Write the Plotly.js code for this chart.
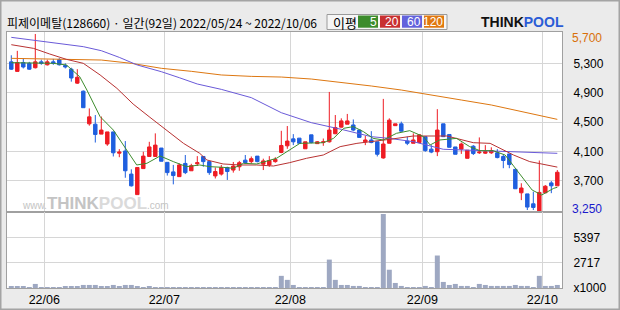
<!DOCTYPE html>
<html><head><meta charset="utf-8">
<script src="https://cdn.plot.ly/plotly-3.0.1.min.js"></script>
<style>html,body{margin:0;padding:0;background:#ebebeb;}#chart{width:620px;height:310px;}</style>
</head><body><div id="chart"></div>
<script>
// ---- data ----
const open  = [5320,5190,5310,5300,5240,5320,5280,5320,5350,5270,5220,5030,4920,4475,4470,4335,4200,4365,4075,4105,3790,3510,3865,4030,4030,4145,3950,3820,3755,3935,3835,3930,4030,3960,3765,3790,3880,3845,3890,3980,3960,4035,3925,3915,3960,4085,4175,4270,4280,4135,4325,4205,4220,4230,4340,4430,4470,4460,4390,4230,4255,4230,4010,4210,4450,4475,4240,4210,4220,4300,4130,4095,4475,4330,4160,4130,4005,4170,4080,4075,4080,4080,4030,4065,3855,3535,3520,3385,3260,3535,3670,3630];
const high  = [5410,5470,5370,5320,5700,5350,5350,5360,5370,5300,5240,5220,4930,4685,4595,4575,4365,4365,4130,4240,3855,3880,4095,4230,4345,4145,3950,3915,3935,4050,3930,4035,4030,3960,3880,3915,3890,3955,3970,4050,4030,4035,4000,4035,4020,4380,4445,4335,4280,4230,4325,4240,4275,4910,4595,4550,4610,4535,4390,4310,4375,4230,4815,4550,4475,4505,4300,4345,4335,4300,4185,4675,4475,4330,4160,4220,4115,4185,4290,4185,4155,4130,4060,4065,3855,3665,3520,3550,3975,3640,3695,3845];
const low   = [5210,5190,5230,5210,5230,5280,5270,5280,5270,5230,5050,5020,4695,4450,4220,4335,4175,4030,4020,3740,3620,3510,3865,4030,4030,3965,3770,3650,3755,3790,3835,3900,3890,3780,3730,3770,3710,3810,3835,3930,3935,3950,3845,3890,3945,4075,4135,4185,4210,4135,4210,4205,4175,4220,4335,4425,4470,4375,4290,4185,4210,4030,4000,4210,4450,4370,4185,4210,4210,4095,4075,4035,4300,4155,4060,4065,4005,4050,4065,4065,4065,4005,3870,3870,3590,3435,3300,3300,3250,3530,3530,3630];
const close = [5220,5310,5250,5220,5320,5300,5320,5300,5280,5250,5100,5110,4695,4570,4330,4390,4365,4080,4090,3835,3630,3880,4035,4160,4185,3965,3810,3770,3915,3810,3905,3945,3960,3810,3825,3880,3825,3900,3945,3945,4000,3960,3970,3975,3990,4180,4240,4230,4210,4230,4220,4230,4230,4390,4425,4515,4515,4390,4290,4255,4220,4060,4200,4525,4475,4375,4210,4255,4325,4110,4090,4390,4300,4155,4060,4200,4115,4070,4090,4095,4110,4015,3975,3920,3590,3600,3340,3335,3540,3625,3630,3815];
// volume, thousands of shares
const volume = [217,217,217,109,434,109,109,109,109,217,217,217,326,326,326,217,217,326,217,326,326,217,109,217,109,109,109,109,109,109,109,109,109,109,109,109,109,109,109,109,109,109,109,109,109,1300,870,325,110,110,110,110,110,3040,870,325,325,220,220,110,110,110,7930,1955,540,220,110,110,110,220,110,3475,650,325,435,220,220,110,435,325,220,220,220,220,325,220,220,110,1300,220,220,325];
// moving averages (day index, value)
const ma5Day  = [0,3.7,7,9.2,11.4,12.6,14.8,17,19.2,20.9,22.6,24.8,27,29.2,31.4,33.1,35.3,37,38.7,40.9,44.2,46.4,48.1,52,53.7,55.4,57,58.7,60.3,62,64.2,66.4,68.7,69.8,71.4,74.2,76.4,78.1,80.3,82.3,83.4,85.1,86.8,88.4,90.4,91];
const ma5Val  = [5309,5300,5300,5277,5118,4936,4573,4391,4118,3914,3937,4037,3960,3891,3914,3891,3882,3869,3937,3928,4005,4118,4209,4218,4277,4414,4437,4368,4277,4255,4346,4382,4300,4187,4255,4277,4164,4109,4109,4050,3937,3755,3573,3505,3596,3610];
const ma20Day = [0,3.7,6.4,9.2,12,14.8,17.6,20.3,23.1,25.9,28.7,31.4,32.6,35.3,38.1,40.9,43.7,46.4,49.2,52,54.8,57.6,60.3,63.1,67,72.6,77,79.8,83.7,86.4,91];
const ma20Val = [5554,5504,5427,5354,5300,5141,4959,4745,4564,4391,4209,4073,3982,3928,3914,3914,3900,3946,4005,4050,4164,4209,4241,4264,4309,4309,4218,4209,4050,3960,3885];
const ma60Day = [0,5,8,12,15,18,21,25,28,31,35,40,45,50,55,60,63,67,72,78,84,91];
const ma60Val = [5654,5604,5572,5527,5472,5381,5277,5186,5104,5018,4945,4832,4627,4491,4400,4300,4277,4232,4128,4109,4091,4073];
const ma120Day = [0,5,10,13,15,20,25,30,35,40,45,50,55,60,65,70,75,80,85,91];
const ma120Val = [5368,5363,5359,5350,5345,5300,5232,5191,5141,5122,5113,5086,5041,4991,4936,4864,4800,4732,4641,4536];
const monthTickPos  = [5.5,25.5,46.5,68.5,88.5];
const monthTickText = ['22/06','22/07','22/08','22/09','22/10'];
const priceTicks    = [3700,4100,4500,4900,5300];
const priceTickText = ['3,700','4,100','4,500','4,900','5,300'];
const volTicks      = [0,2717,5397];
const volTickText   = ['x1000','2717','5397'];
const maxLabel = '5,700', minLabel = '3,250';
const titleText = '피제이메탈(128660) · 일간(92일) 2022/05/24 ~ 2022/10/06';
const maNames = ['5','20','60','120'];

// ---- layout helpers (pixel -> paper) ----
const L=7,R=562,T=32,B=288;
const px=x=>(x-L)/(R-L), py=y=>(B-y)/(B-T);
const split=py(212.3);
const idx=close.map((_,i)=>i);
const cUp='#ee1c24', cDn='#1f5fdf';
const maCol=['#3d8c2d','#b83232','#6a5ad8','#dd7711'];

const traces=[
 {type:'candlestick',x:idx,open:open,high:high,low:low,close:close,xaxis:'x',yaxis:'y',
  increasing:{line:{color:cUp,width:1},fillcolor:cUp},
  decreasing:{line:{color:cDn,width:1},fillcolor:cDn},
  whiskerwidth:0,hoverinfo:'skip',showlegend:false},
 {type:'scatter',mode:'lines',x:ma120Day,y:ma120Val,line:{color:maCol[3],width:1},xaxis:'x',yaxis:'y',hoverinfo:'skip'},
 {type:'scatter',mode:'lines',x:ma60Day,y:ma60Val,line:{color:maCol[2],width:1},xaxis:'x',yaxis:'y',hoverinfo:'skip'},
 {type:'scatter',mode:'lines',x:ma20Day,y:ma20Val,line:{color:maCol[1],width:1},xaxis:'x',yaxis:'y',hoverinfo:'skip'},
 {type:'scatter',mode:'lines',x:ma5Day,y:ma5Val,line:{color:maCol[0],width:1},xaxis:'x',yaxis:'y',hoverinfo:'skip'},
 {type:'bar',x:idx,y:volume,xaxis:'x2',yaxis:'y2',marker:{color:'#9ea8c2',line:{width:0}},hoverinfo:'skip'}
];

const axCommon={showgrid:true,gridcolor:'#d6d6d6',gridwidth:1,showline:true,linecolor:'#a0a0a0',linewidth:1,mirror:true,zeroline:false,fixedrange:true};
const annotations=[
 {xref:'paper',yref:'paper',x:px(5),y:py(22),xanchor:'left',yanchor:'middle',showarrow:false,text:titleText,
  font:{family:'Noto Sans CJK KR, sans-serif',size:12,color:'#000'}},
 {xref:'paper',yref:'paper',x:px(331),y:py(22),xanchor:'left',yanchor:'middle',showarrow:false,text:'이평',
  font:{family:'Noto Sans CJK KR, sans-serif',size:13,color:'#000'}},
 {xref:'paper',yref:'paper',x:px(570),y:py(38),xanchor:'left',yanchor:'middle',showarrow:false,text:maxLabel,
  font:{family:'Liberation Sans, Arial, sans-serif',size:12,color:'#d8700a'}},
 {xref:'paper',yref:'paper',x:px(570),y:py(209),xanchor:'left',yanchor:'middle',showarrow:false,text:minLabel,
  font:{family:'Liberation Sans, Arial, sans-serif',size:12,color:'#1a1acc'}},
 {xref:'paper',yref:'paper',x:px(479),y:py(22),xanchor:'left',yanchor:'middle',showarrow:false,
  text:'<b>THINK</b><b><span style="color:#2b5cd6">POOL</span></b>',
  font:{family:'Liberation Sans, Arial, sans-serif',size:14,color:'#111'}},
 {xref:'paper',yref:'paper',x:px(20),y:py(203),xanchor:'left',yanchor:'middle',showarrow:false,
  text:'<span style="font-size:10px">www.</span><b>THINK</b><b><span style="color:#dadada">POOL</span></b><span style="font-size:10px">.com</span>',
  font:{family:'Liberation Sans, Arial, sans-serif',size:17,color:'#c4c4c4'}}
];
const shapes=[
 {type:'rect',xref:'paper',yref:'paper',x0:px(0.75),x1:px(619.25),y0:py(0.75),y1:py(309.25),line:{color:'#a4a4a4',width:1.5},fillcolor:'rgba(0,0,0,0)',layer:'above'},
 {type:'rect',xref:'paper',yref:'paper',x0:px(327),x1:px(447),y0:py(29.5),y1:py(14.5),line:{color:'#9a9a9a',width:1},fillcolor:'#f6f6f6',layer:'below'}
];
const boxX=[358,380,402,424];
const boxC=['#3c8c2c','#c83030','#6262dc','#e07810'];
boxX.forEach((x,k)=>{
 shapes.push({type:'rect',xref:'paper',yref:'paper',x0:px(x),x1:px(x+20),y0:py(27.7),y1:py(15.5),line:{width:0},fillcolor:boxC[k],layer:'below'});
 annotations.push({xref:'paper',yref:'paper',x:px(x+20.5),y:py(22),xanchor:'right',yanchor:'middle',showarrow:false,text:maNames[k],
  font:{family:'Liberation Sans, Arial, sans-serif',size:12,color:'#fff'}});
});

const layout={
 width:620,height:310,margin:{l:L,r:620-R,t:T,b:310-B,pad:0},
 paper_bgcolor:'#ebebeb',plot_bgcolor:'#ffffff',showlegend:false,
 boxgap:0.18,bargap:0.17,
 font:{family:'Liberation Sans, Arial, sans-serif',size:12,color:'#000'},
 xaxis:Object.assign({},axCommon,{domain:[0,1],anchor:'y',range:[-0.717,91.78],tickvals:monthTickPos,showticklabels:false,ticks:'',rangeslider:{visible:false}}),
 xaxis2:Object.assign({},axCommon,{domain:[0,1],anchor:'y2',matches:'x',range:[-0.717,91.78],tickvals:monthTickPos,ticktext:monthTickText,ticks:'',ticklabelstandoff:0,tickfont:{size:12.5,color:'#000'},rangeslider:{visible:false}}),
 yaxis:Object.assign({},axCommon,{domain:[split,1],anchor:'x',side:'right',range:[3269,5727],tickvals:priceTicks,ticktext:priceTickText,ticks:'',ticklabelstandoff:8,tickfont:{size:12,color:'#000'}}),
 yaxis2:Object.assign({},axCommon,{domain:[0,split],anchor:'x2',side:'right',range:[0,8100],tickvals:volTicks,ticktext:volTickText,ticks:'',ticklabelstandoff:8,tickfont:{size:12,color:'#000'}}),
 annotations:annotations,shapes:shapes
};
Plotly.newPlot('chart',traces,layout,{displayModeBar:false,staticPlot:true});
</script></body></html>
